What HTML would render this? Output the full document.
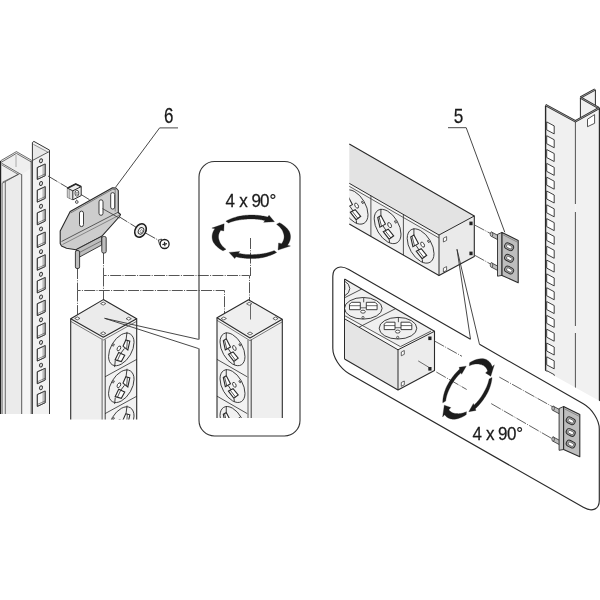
<!DOCTYPE html>
<html><head><meta charset="utf-8"><style>
html,body{margin:0;padding:0;background:#fff;}
text{filter:grayscale(1);}
svg{display:block;}
</style></head><body>
<svg width="600" height="600" viewBox="0 0 600 600">
<defs>
<g id="sock">
<circle cx="50" cy="48" r="40" fill="none" stroke="#2a2a2a" vector-effect="non-scaling-stroke" stroke-width="0.9"/>
<polyline points="30,12 30,29.5" fill="none" stroke="#2a2a2a" vector-effect="non-scaling-stroke" stroke-width="0.9"/>
<polyline points="55,80 56,87.5" fill="none" stroke="#2a2a2a" vector-effect="non-scaling-stroke" stroke-width="0.9"/>
<polyline points="36,53 46,61" fill="none" stroke="#2a2a2a" vector-effect="non-scaling-stroke" stroke-width="0.9"/>
<polygon points="20.5,39 30,29.5 43.5,45 27,61" fill="#fff" stroke="#2a2a2a" vector-effect="non-scaling-stroke" stroke-width="1.1"/>
<line x1="24.5" y1="35.5" x2="32" y2="57" stroke="#2a2a2a" vector-effect="non-scaling-stroke" stroke-width="0.8"/>
<polygon points="37,67.9 51.9,54.1 68.2,63.2 54.5,78.8" fill="#fff" stroke="#2a2a2a" vector-effect="non-scaling-stroke" stroke-width="1.1"/>
<line x1="42.7" y1="62.7" x2="59.7" y2="72.9" stroke="#2a2a2a" vector-effect="non-scaling-stroke" stroke-width="0.8"/>
<circle cx="56" cy="41.5" r="5.8" fill="#fff" stroke="#2a2a2a" vector-effect="non-scaling-stroke" stroke-width="0.9"/>
<circle cx="73.5" cy="24.5" r="2.6" fill="none" stroke="#2a2a2a" vector-effect="non-scaling-stroke" stroke-width="0.9"/>
</g>
<g id="sockL">
<circle cx="50" cy="48" r="40" fill="none" stroke="#2a2a2a" vector-effect="non-scaling-stroke" stroke-width="0.9"/>
<polyline points="32,9 35,29" fill="none" stroke="#2a2a2a" vector-effect="non-scaling-stroke" stroke-width="0.9"/>
<polyline points="69,70 71,86" fill="none" stroke="#2a2a2a" vector-effect="non-scaling-stroke" stroke-width="0.9"/>
<polyline points="40,50 52,58" fill="none" stroke="#2a2a2a" vector-effect="non-scaling-stroke" stroke-width="0.9"/>
<polygon points="44.6,41.9 35.8,29 23.2,38.2 29.5,59.6" fill="#fff" stroke="#2a2a2a" vector-effect="non-scaling-stroke" stroke-width="1.1"/>
<line x1="31" y1="32.5" x2="33" y2="55" stroke="#2a2a2a" vector-effect="non-scaling-stroke" stroke-width="0.8"/>
<polygon points="69.4,67 58.1,52.3 39.2,68.9 49.9,80.9" fill="#fff" stroke="#2a2a2a" vector-effect="non-scaling-stroke" stroke-width="1.1"/>
<line x1="52" y1="58" x2="62" y2="72" stroke="#2a2a2a" vector-effect="non-scaling-stroke" stroke-width="0.8"/>
<circle cx="57.5" cy="41.7" r="5.8" fill="#fff" stroke="#2a2a2a" vector-effect="non-scaling-stroke" stroke-width="0.9"/>
<circle cx="74.7" cy="24.3" r="2.6" fill="none" stroke="#2a2a2a" vector-effect="non-scaling-stroke" stroke-width="0.9"/>
</g>
<g id="sockT">
<ellipse cx="0" cy="0" rx="18.8" ry="10.8" fill="none" stroke="#2a2a2a" stroke-width="0.9"/>
<polygon points="-13.8,-4 -11.8,-6 -3,-6 -3,1.4 -13.8,1.4" fill="#fff" stroke="#2a2a2a" stroke-width="0.9"/>
<line x1="-13.8" y1="-2.6" x2="-3" y2="-2.6" stroke="#2a2a2a" stroke-width="0.7"/>
<polygon points="3,-6 11.8,-6 13.8,-4 13.8,1.4 3,1.4" fill="#fff" stroke="#2a2a2a" stroke-width="0.9"/>
<line x1="3" y1="-2.6" x2="13.8" y2="-2.6" stroke="#2a2a2a" stroke-width="0.7"/>
<line x1="0.4" y1="-10.6" x2="0.4" y2="-6" stroke="#2a2a2a" stroke-width="0.8"/>
<line x1="-3" y1="-0.5" x2="3" y2="-0.5" stroke="#2a2a2a" stroke-width="0.7"/>
<ellipse cx="-0.3" cy="3.4" rx="2.3" ry="1.5" fill="#fff" stroke="#2a2a2a" stroke-width="0.8"/>
<circle cx="-0.3" cy="9.2" r="1.1" fill="none" stroke="#2a2a2a" stroke-width="0.7"/>
</g>
</defs>
<rect width="600" height="600" fill="#fff"/>
<polygon points="0.40,161.00 16.40,151.60 31.20,160.40 32.40,160.00 32.40,414.00 0.40,414.00" fill="#efefef" stroke="none" stroke-width="1" stroke-linejoin="round" />
<polygon points="21.60,174.40 31.20,168.00 31.20,414.00 21.60,414.00" fill="#f5f5f5" stroke="none" stroke-width="1" stroke-linejoin="round" />
<polygon points="2.40,183.20 19.60,173.60 21.60,174.40 21.60,414.00 2.40,414.00" fill="#ebebeb" stroke="none" stroke-width="1" stroke-linejoin="round" />
<polygon points="32.40,142.00 33.90,141.40 49.50,150.10 49.50,414.00 32.40,414.00" fill="#f1f1f1" stroke="none" stroke-width="1" stroke-linejoin="round" />
<polygon points="33.20,143.50 48.50,151.50 33.20,160.00" fill="#e9e9e9" stroke="none" stroke-width="1" stroke-linejoin="round" />
<polyline points="0.60,160.80 16.40,151.60 31.40,160.20" fill="none" stroke="#333" stroke-width="0.7" stroke-linejoin="round" />
<polyline points="1.40,162.20 16.40,153.40 31.40,162.00" fill="none" stroke="#333" stroke-width="0.7" stroke-linejoin="round" />
<polyline points="1.60,163.20 19.60,173.60 2.40,183.20" fill="none" stroke="#333" stroke-width="0.7" stroke-linejoin="round" />
<polyline points="1.60,164.80 18.20,174.40 2.40,182.20" fill="none" stroke="#333" stroke-width="0.6" stroke-linejoin="round" />
<polyline points="19.60,173.60 21.60,174.60" fill="none" stroke="#333" stroke-width="0.7" stroke-linejoin="round" />
<line x1="0.50" y1="161.00" x2="0.50" y2="414.00" stroke="#222" stroke-width="1.4" />
<line x1="2.20" y1="183.20" x2="2.20" y2="414.00" stroke="#333" stroke-width="0.6" />
<line x1="5.30" y1="182.00" x2="5.30" y2="414.00" stroke="#333" stroke-width="0.7" />
<line x1="21.70" y1="174.40" x2="21.70" y2="414.00" stroke="#333" stroke-width="0.8" />
<line x1="16.00" y1="155.00" x2="16.00" y2="167.00" stroke="#999" stroke-width="0.8" />
<line x1="31.20" y1="160.50" x2="31.20" y2="414.00" stroke="#333" stroke-width="0.8" />
<polyline points="32.40,414.00 32.40,142.50 33.90,141.40 49.50,150.10 49.50,414.00" fill="none" stroke="#333" stroke-width="1.0" stroke-linejoin="round" />
<polyline points="33.40,144.40 48.40,152.40" fill="none" stroke="#555" stroke-width="0.6" stroke-linejoin="round" />
<polyline points="32.60,160.40 48.80,151.80" fill="none" stroke="#333" stroke-width="0.8" stroke-linejoin="round" />
<ellipse cx="41" cy="160.8" rx="1.5" ry="2.0" fill="#d8d8d8" stroke="#333" stroke-width="0.9" transform="rotate(25 41 160.8)"/>
<polygon points="37.30,167.50 45.20,164.00 45.20,175.70 37.30,179.40" fill="#f6f6f6" stroke="#333" stroke-width="0.8" stroke-linejoin="round" />
<polygon points="42.40,165.20 45.20,164.00 45.20,175.70 42.40,176.90" fill="#bdbdbd" stroke="none" stroke-width="1" stroke-linejoin="round" />
<polyline points="37.50,177.40 45.00,174.00" fill="none" stroke="#444" stroke-width="0.6" stroke-linejoin="round" />
<polygon points="37.30,167.50 45.20,164.00 45.20,175.70 37.30,179.40" fill="none" stroke="#333" stroke-width="0.8" stroke-linejoin="round" />
<ellipse cx="41" cy="183.5" rx="1.5" ry="2.0" fill="#d8d8d8" stroke="#333" stroke-width="0.9" transform="rotate(25 41 183.5)"/>
<polygon points="37.30,190.20 45.20,186.70 45.20,198.40 37.30,202.10" fill="#f6f6f6" stroke="#333" stroke-width="0.8" stroke-linejoin="round" />
<polygon points="42.40,187.90 45.20,186.70 45.20,198.40 42.40,199.60" fill="#bdbdbd" stroke="none" stroke-width="1" stroke-linejoin="round" />
<polyline points="37.50,200.10 45.00,196.70" fill="none" stroke="#444" stroke-width="0.6" stroke-linejoin="round" />
<polygon points="37.30,190.20 45.20,186.70 45.20,198.40 37.30,202.10" fill="none" stroke="#333" stroke-width="0.8" stroke-linejoin="round" />
<ellipse cx="41" cy="206.2" rx="1.5" ry="2.0" fill="#d8d8d8" stroke="#333" stroke-width="0.9" transform="rotate(25 41 206.2)"/>
<polygon points="37.30,212.90 45.20,209.40 45.20,221.10 37.30,224.80" fill="#f6f6f6" stroke="#333" stroke-width="0.8" stroke-linejoin="round" />
<polygon points="42.40,210.60 45.20,209.40 45.20,221.10 42.40,222.30" fill="#bdbdbd" stroke="none" stroke-width="1" stroke-linejoin="round" />
<polyline points="37.50,222.80 45.00,219.40" fill="none" stroke="#444" stroke-width="0.6" stroke-linejoin="round" />
<polygon points="37.30,212.90 45.20,209.40 45.20,221.10 37.30,224.80" fill="none" stroke="#333" stroke-width="0.8" stroke-linejoin="round" />
<ellipse cx="41" cy="228.9" rx="1.5" ry="2.0" fill="#d8d8d8" stroke="#333" stroke-width="0.9" transform="rotate(25 41 228.9)"/>
<polygon points="37.30,235.60 45.20,232.10 45.20,243.80 37.30,247.50" fill="#f6f6f6" stroke="#333" stroke-width="0.8" stroke-linejoin="round" />
<polygon points="42.40,233.30 45.20,232.10 45.20,243.80 42.40,245.00" fill="#bdbdbd" stroke="none" stroke-width="1" stroke-linejoin="round" />
<polyline points="37.50,245.50 45.00,242.10" fill="none" stroke="#444" stroke-width="0.6" stroke-linejoin="round" />
<polygon points="37.30,235.60 45.20,232.10 45.20,243.80 37.30,247.50" fill="none" stroke="#333" stroke-width="0.8" stroke-linejoin="round" />
<ellipse cx="41" cy="251.6" rx="1.5" ry="2.0" fill="#d8d8d8" stroke="#333" stroke-width="0.9" transform="rotate(25 41 251.6)"/>
<polygon points="37.30,258.30 45.20,254.80 45.20,266.50 37.30,270.20" fill="#f6f6f6" stroke="#333" stroke-width="0.8" stroke-linejoin="round" />
<polygon points="42.40,256.00 45.20,254.80 45.20,266.50 42.40,267.70" fill="#bdbdbd" stroke="none" stroke-width="1" stroke-linejoin="round" />
<polyline points="37.50,268.20 45.00,264.80" fill="none" stroke="#444" stroke-width="0.6" stroke-linejoin="round" />
<polygon points="37.30,258.30 45.20,254.80 45.20,266.50 37.30,270.20" fill="none" stroke="#333" stroke-width="0.8" stroke-linejoin="round" />
<ellipse cx="41" cy="274.3" rx="1.5" ry="2.0" fill="#d8d8d8" stroke="#333" stroke-width="0.9" transform="rotate(25 41 274.3)"/>
<polygon points="37.30,281.00 45.20,277.50 45.20,289.20 37.30,292.90" fill="#f6f6f6" stroke="#333" stroke-width="0.8" stroke-linejoin="round" />
<polygon points="42.40,278.70 45.20,277.50 45.20,289.20 42.40,290.40" fill="#bdbdbd" stroke="none" stroke-width="1" stroke-linejoin="round" />
<polyline points="37.50,290.90 45.00,287.50" fill="none" stroke="#444" stroke-width="0.6" stroke-linejoin="round" />
<polygon points="37.30,281.00 45.20,277.50 45.20,289.20 37.30,292.90" fill="none" stroke="#333" stroke-width="0.8" stroke-linejoin="round" />
<ellipse cx="41" cy="297.0" rx="1.5" ry="2.0" fill="#d8d8d8" stroke="#333" stroke-width="0.9" transform="rotate(25 41 297.0)"/>
<polygon points="37.30,303.70 45.20,300.20 45.20,311.90 37.30,315.60" fill="#f6f6f6" stroke="#333" stroke-width="0.8" stroke-linejoin="round" />
<polygon points="42.40,301.40 45.20,300.20 45.20,311.90 42.40,313.10" fill="#bdbdbd" stroke="none" stroke-width="1" stroke-linejoin="round" />
<polyline points="37.50,313.60 45.00,310.20" fill="none" stroke="#444" stroke-width="0.6" stroke-linejoin="round" />
<polygon points="37.30,303.70 45.20,300.20 45.20,311.90 37.30,315.60" fill="none" stroke="#333" stroke-width="0.8" stroke-linejoin="round" />
<ellipse cx="41" cy="319.7" rx="1.5" ry="2.0" fill="#d8d8d8" stroke="#333" stroke-width="0.9" transform="rotate(25 41 319.7)"/>
<polygon points="37.30,326.40 45.20,322.90 45.20,334.60 37.30,338.30" fill="#f6f6f6" stroke="#333" stroke-width="0.8" stroke-linejoin="round" />
<polygon points="42.40,324.10 45.20,322.90 45.20,334.60 42.40,335.80" fill="#bdbdbd" stroke="none" stroke-width="1" stroke-linejoin="round" />
<polyline points="37.50,336.30 45.00,332.90" fill="none" stroke="#444" stroke-width="0.6" stroke-linejoin="round" />
<polygon points="37.30,326.40 45.20,322.90 45.20,334.60 37.30,338.30" fill="none" stroke="#333" stroke-width="0.8" stroke-linejoin="round" />
<ellipse cx="41" cy="342.4" rx="1.5" ry="2.0" fill="#d8d8d8" stroke="#333" stroke-width="0.9" transform="rotate(25 41 342.4)"/>
<polygon points="37.30,349.10 45.20,345.60 45.20,357.30 37.30,361.00" fill="#f6f6f6" stroke="#333" stroke-width="0.8" stroke-linejoin="round" />
<polygon points="42.40,346.80 45.20,345.60 45.20,357.30 42.40,358.50" fill="#bdbdbd" stroke="none" stroke-width="1" stroke-linejoin="round" />
<polyline points="37.50,359.00 45.00,355.60" fill="none" stroke="#444" stroke-width="0.6" stroke-linejoin="round" />
<polygon points="37.30,349.10 45.20,345.60 45.20,357.30 37.30,361.00" fill="none" stroke="#333" stroke-width="0.8" stroke-linejoin="round" />
<ellipse cx="41" cy="365.1" rx="1.5" ry="2.0" fill="#d8d8d8" stroke="#333" stroke-width="0.9" transform="rotate(25 41 365.1)"/>
<polygon points="37.30,371.80 45.20,368.30 45.20,380.00 37.30,383.70" fill="#f6f6f6" stroke="#333" stroke-width="0.8" stroke-linejoin="round" />
<polygon points="42.40,369.50 45.20,368.30 45.20,380.00 42.40,381.20" fill="#bdbdbd" stroke="none" stroke-width="1" stroke-linejoin="round" />
<polyline points="37.50,381.70 45.00,378.30" fill="none" stroke="#444" stroke-width="0.6" stroke-linejoin="round" />
<polygon points="37.30,371.80 45.20,368.30 45.20,380.00 37.30,383.70" fill="none" stroke="#333" stroke-width="0.8" stroke-linejoin="round" />
<ellipse cx="41" cy="387.8" rx="1.5" ry="2.0" fill="#d8d8d8" stroke="#333" stroke-width="0.9" transform="rotate(25 41 387.8)"/>
<polygon points="37.30,394.50 45.20,391.00 45.20,402.70 37.30,406.40" fill="#f6f6f6" stroke="#333" stroke-width="0.8" stroke-linejoin="round" />
<polygon points="42.40,392.20 45.20,391.00 45.20,402.70 42.40,403.90" fill="#bdbdbd" stroke="none" stroke-width="1" stroke-linejoin="round" />
<polyline points="37.50,404.40 45.00,401.00" fill="none" stroke="#444" stroke-width="0.6" stroke-linejoin="round" />
<polygon points="37.30,394.50 45.20,391.00 45.20,402.70 37.30,406.40" fill="none" stroke="#333" stroke-width="0.8" stroke-linejoin="round" />
<polyline points="77.5,268 77.5,290.5 224.5,290.5 224.5,316" stroke="#555" stroke-width="1" stroke-dasharray="11 1.3 1 1.3" fill="none"/>
<polyline points="103.5,253 103.5,275.5 249.5,275.5 249.5,302" stroke="#555" stroke-width="1" stroke-dasharray="11 1.3 1 1.3" fill="none"/>
<polyline points="77.5,290.5 77.5,316" stroke="#555" stroke-width="1" stroke-dasharray="11 1.3 1 1.3" fill="none"/>
<polyline points="103.5,275.5 103.5,300" stroke="#555" stroke-width="1" stroke-dasharray="11 1.3 1 1.3" fill="none"/>
<line x1="250.5" y1="238" x2="250.5" y2="276" stroke="#555" stroke-width="1" stroke-dasharray="11 1.3 1 1.3" fill="none"/>
<line x1="48" y1="176" x2="67.7" y2="187.7" stroke="#3a3a3a" stroke-width="0.9" stroke-dasharray="11 1.3 1 1.3" fill="none"/>
<line x1="80.7" y1="194.3" x2="89.5" y2="199.7" stroke="#3a3a3a" stroke-width="0.9" stroke-dasharray="11 1.3 1 1.3" fill="none"/>
<line x1="118" y1="216" x2="136.5" y2="227.5" stroke="#3a3a3a" stroke-width="0.9" stroke-dasharray="11 1.3 1 1.3" fill="none"/>
<line x1="145.5" y1="233" x2="159" y2="240.5" stroke="#3a3a3a" stroke-width="0.9" stroke-dasharray="11 1.3 1 1.3" fill="none"/>
<polygon points="67.40,188.20 75.70,184.00 81.20,186.60 81.20,195.60 73.00,199.80 67.40,197.20" fill="#ececec" stroke="#2a2a2a" stroke-width="1.0" stroke-linejoin="round" />
<polygon points="67.40,188.20 72.80,190.80 72.80,199.70 67.40,197.20" fill="#e2e2e2" stroke="none" stroke-width="1" stroke-linejoin="round" />
<polyline points="67.40,188.20 75.70,184.00 81.20,186.60" fill="none" stroke="#2a2a2a" stroke-width="1.6" stroke-linejoin="round" />
<polyline points="67.40,188.20 72.80,190.80 81.20,186.60" fill="none" stroke="#2a2a2a" stroke-width="1.0" stroke-linejoin="round" />
<line x1="72.80" y1="190.80" x2="72.80" y2="199.80" stroke="#2a2a2a" stroke-width="1.0" />
<line x1="69.20" y1="189.60" x2="69.20" y2="198.00" stroke="#666" stroke-width="0.6" />
<ellipse cx="76.9" cy="193.2" rx="1.9" ry="3.0" fill="#fff" stroke="#2a2a2a" stroke-width="0.8"/>
<ellipse cx="77.1" cy="193.4" rx="0.8" ry="1.4" fill="none" stroke="#555" stroke-width="0.6"/>
<line x1="76.60" y1="199.60" x2="76.60" y2="200.60" stroke="#2a2a2a" stroke-width="0.7" />
<ellipse cx="76.8" cy="202.0" rx="1.3" ry="1.4" fill="#fff" stroke="#2a2a2a" stroke-width="0.8"/>
<polygon points="70.20,211.50 112.50,187.80 116.00,188.00 118.30,190.50 118.30,212.50 120.50,214.50 119.50,216.50 101.70,236.30 76.00,249.70 66.50,248.20 61.50,246.00 60.20,243.50 60.20,231.00 70.20,211.50" fill="#cdcdcd" stroke="#2a2a2a" stroke-width="1.1" stroke-linejoin="round" />
<polyline points="70.60,213.00 112.60,189.30 115.50,189.60" fill="none" stroke="#444" stroke-width="0.6" stroke-linejoin="round" />
<polyline points="61.50,241.50 118.50,212.00" fill="none" stroke="#3a3a3a" stroke-width="0.8" stroke-linejoin="round" />
<polyline points="62.50,244.50 119.50,215.00" fill="none" stroke="#555" stroke-width="0.6" stroke-linejoin="round" />
<polyline points="115.20,189.00 115.20,211.50" fill="none" stroke="#555" stroke-width="0.6" stroke-linejoin="round" />
<polygon points="76.00,249.70 101.70,236.30 101.70,245.00 79.00,257.30" fill="#bdbdbd" stroke="#2a2a2a" stroke-width="0.9" stroke-linejoin="round" />
<polyline points="77.50,253.50 101.70,240.80" fill="none" stroke="#444" stroke-width="0.6" stroke-linejoin="round" />
<rect x="75.4" y="250.5" width="4.2" height="18" rx="1.6" fill="#bdbdbd" stroke="#2a2a2a" stroke-width="0.9"/>
<rect x="101.8" y="236.5" width="4.4" height="16.5" rx="1.6" fill="#bdbdbd" stroke="#2a2a2a" stroke-width="0.9"/>
<rect x="79.5" y="211.1" width="4" height="15.5" rx="2" fill="#fff" stroke="#2a2a2a" stroke-width="0.9"/>
<rect x="99.0" y="199.8" width="4" height="15.5" rx="2" fill="#fff" stroke="#2a2a2a" stroke-width="0.9"/>
<rect x="110.7" y="192.6" width="4" height="16.5" rx="2" fill="#fff" stroke="#2a2a2a" stroke-width="0.9"/>
<ellipse cx="140.5" cy="230.5" rx="5.3" ry="7.1" transform="rotate(30 140.5 230.5)" fill="#efefef" stroke="#1e1e1e" stroke-width="1.6"/>
<ellipse cx="141.0" cy="230.9" rx="2.5" ry="3.4" transform="rotate(30 141 230.9)" fill="#fff" stroke="#2a2a2a" stroke-width="0.9"/>
<ellipse cx="141.3" cy="231.2" rx="1.1" ry="1.6" transform="rotate(30 141.3 231.2)" fill="none" stroke="#555" stroke-width="0.6"/>
<polygon points="158.30,240.20 161.50,239.00 162.30,246.50 159.60,244.60" fill="#e8e8e8" stroke="#2a2a2a" stroke-width="0.8" stroke-linejoin="round" />
<circle cx="164.6" cy="244" r="4.5" fill="#fff" stroke="#1e1e1e" stroke-width="1.3"/>
<line x1="162.40" y1="244.60" x2="167.00" y2="243.60" stroke="#2a2a2a" stroke-width="1.2" />
<line x1="164.50" y1="241.90" x2="164.90" y2="246.30" stroke="#2a2a2a" stroke-width="1.2" />
<line x1="102.5" y1="208.6" x2="119.5" y2="218.2" stroke="#333" stroke-width="0.8"/>
<text x="164" y="122.8" font-family="Liberation Sans, sans-serif" font-size="21.2" fill="#1a1a1a" stroke="#1a1a1a" stroke-width="0.25" transform="translate(164 0) scale(0.8 1) translate(-164 0)">6</text>
<polyline points="178.00,127.90 159.60,127.90 115.40,187.50" fill="none" stroke="#333" stroke-width="0.9" stroke-linejoin="round" />
<clipPath id="clipL"><rect x="60" y="290" width="90" height="129.5"/></clipPath>
<g clip-path="url(#clipL)">
<polygon points="70.70,318.70 103.30,337.30 103.30,420.00 70.70,420.00" fill="#eeeeee" stroke="none" stroke-width="1" stroke-linejoin="round" />
<polygon points="103.30,337.30 136.70,318.70 136.70,420.00 103.30,420.00" fill="#f2f2f2" stroke="none" stroke-width="1" stroke-linejoin="round" />
<polygon points="70.70,318.70 103.30,299.60 136.70,318.70 103.30,337.30" fill="#ebebeb" stroke="none" stroke-width="1" stroke-linejoin="round" />
<polygon points="70.70,318.70 103.30,337.30 136.70,318.70 136.70,321.30 103.30,340.00 70.70,321.30" fill="#f4f4f4" stroke="none" stroke-width="1" stroke-linejoin="round" />
<use href="#sockL" transform="matrix(-0.31850 0.17500 0.00000 0.36850 137.225 322.962)"/>
<line x1="105.00" y1="376.80" x2="136.90" y2="359.30" stroke="#2a2a2a" stroke-width="0.8" />
<use href="#sockL" transform="matrix(-0.31850 0.17500 0.00000 0.36850 137.225 359.812)"/>
<line x1="105.00" y1="413.65" x2="136.90" y2="396.15" stroke="#2a2a2a" stroke-width="0.8" />
<use href="#sockL" transform="matrix(-0.31850 0.17500 0.00000 0.36850 137.225 396.662)"/>
<line x1="105.00" y1="450.50" x2="136.90" y2="433.00" stroke="#2a2a2a" stroke-width="0.8" />
<polygon points="70.70,318.70 103.30,299.60 136.70,318.70 103.30,337.30" fill="none" stroke="#2a2a2a" stroke-width="1.1" stroke-linejoin="round" />
<polyline points="70.70,321.30 103.30,340.00 136.70,321.30" fill="none" stroke="#444" stroke-width="0.7" stroke-linejoin="round" />
<line x1="70.70" y1="318.70" x2="70.70" y2="420.00" stroke="#2a2a2a" stroke-width="1.1" />
<line x1="136.70" y1="318.70" x2="136.70" y2="420.00" stroke="#2a2a2a" stroke-width="1.1" />
<line x1="102.20" y1="338.50" x2="102.20" y2="420.00" stroke="#9a9a9a" stroke-width="1.7" />
<line x1="105.20" y1="339.50" x2="105.20" y2="420.00" stroke="#2a2a2a" stroke-width="0.9" />
<polygon points="74.70,318.40 77.30,316.90 79.90,318.40 77.30,319.90" fill="#fff" stroke="#2a2a2a" stroke-width="0.7" stroke-linejoin="round" />
<polygon points="100.60,303.60 103.20,302.10 105.80,303.60 103.20,305.10" fill="#fff" stroke="#2a2a2a" stroke-width="0.7" stroke-linejoin="round" />
<polygon points="126.10,318.70 128.70,317.20 131.30,318.70 128.70,320.20" fill="#fff" stroke="#2a2a2a" stroke-width="0.7" stroke-linejoin="round" />
<polygon points="100.60,333.30 103.20,331.80 105.80,333.30 103.20,334.80" fill="#fff" stroke="#2a2a2a" stroke-width="0.7" stroke-linejoin="round" />
</g>
<polyline points="198.60,339.40 104.60,318.30 198.60,348.60" fill="none" stroke="#333" stroke-width="0.9" stroke-linejoin="round" />
<path d="M199,348.6 L199,420.5 C199,429.06065 205.93935,436 214.5,436 L284.5,436 C293.06065,436 300,429.06065 300,420.5 L300,177.0 C300,168.43935 293.06065,161.5 284.5,161.5 L214.5,161.5 C205.93935,161.5 199,168.43935 199,177.0 L199,339.4" fill="none" stroke="#333" stroke-width="1.1"/>
<polygon points="225.88,221.19 226.67,220.75 227.49,220.33 228.32,219.92 229.18,219.52 230.06,219.14 230.96,218.77 231.89,218.42 232.83,218.07 233.79,217.75 234.77,217.44 235.77,217.14 236.78,216.86 237.81,216.59 238.86,216.35 239.92,216.12 240.99,215.90 242.08,215.70 243.17,215.52 244.30,215.40 245.42,215.30 246.55,215.21 247.69,215.14 248.83,215.09 249.97,215.06 251.11,215.05 252.25,215.06 253.39,215.08 254.53,215.12 255.67,215.19 256.80,215.26 257.93,215.36 259.05,215.48 260.16,215.61 261.27,215.77 262.37,215.94 263.46,216.12 264.54,216.33 265.61,216.55 266.67,216.79 267.71,217.05 269.05,215.28 274.44,221.63 263.69,222.36 265.03,220.59 264.16,220.38 263.27,220.18 262.38,220.00 261.48,219.83 260.56,219.68 259.64,219.54 258.72,219.41 257.78,219.30 256.84,219.21 255.90,219.13 254.95,219.06 254.00,219.01 253.05,218.98 252.09,218.96 251.14,218.95 250.18,218.96 249.23,218.99 248.28,219.03 247.33,219.08 246.38,219.15 245.44,219.24 244.50,219.34 243.55,219.41 242.61,219.50 241.67,219.61 240.73,219.73 239.80,219.87 238.87,220.02 237.96,220.18 237.05,220.37 236.14,220.56 235.25,220.77 234.37,221.00 233.50,221.24 232.64,221.50 231.79,221.77 230.95,222.05 230.13,222.35 229.33,222.66 228.54,222.98" fill="#1c1c1c" stroke="#1c1c1c" stroke-width="0.3" stroke-linejoin="round" />
<polygon points="279.53,222.74 280.29,223.16 281.02,223.59 281.74,224.04 282.43,224.50 283.11,224.97 283.75,225.45 284.38,225.94 284.98,226.44 285.55,226.95 286.10,227.47 286.63,228.00 287.12,228.55 287.59,229.09 288.03,229.65 288.45,230.22 288.83,230.79 289.19,231.37 289.52,231.96 289.75,232.56 289.95,233.16 290.12,233.77 290.26,234.38 290.36,234.99 290.44,235.60 290.49,236.22 290.50,236.83 290.48,237.45 290.43,238.06 290.35,238.67 290.24,239.29 290.10,239.90 289.93,240.50 289.72,241.11 289.49,241.71 289.22,242.30 288.93,242.90 288.60,243.48 288.25,244.06 287.86,244.64 287.45,245.21 290.40,245.97 278.05,250.05 278.60,242.95 281.55,243.70 281.89,243.24 282.22,242.76 282.51,242.28 282.79,241.80 283.03,241.32 283.25,240.83 283.45,240.33 283.62,239.84 283.77,239.34 283.89,238.84 283.98,238.34 284.04,237.84 284.09,237.33 284.10,236.83 284.09,236.32 284.05,235.82 283.99,235.32 283.90,234.81 283.78,234.31 283.64,233.82 283.47,233.32 283.28,232.83 283.12,232.33 282.94,231.83 282.74,231.33 282.50,230.83 282.25,230.34 281.96,229.85 281.65,229.37 281.31,228.88 280.95,228.41 280.56,227.93 280.15,227.46 279.71,227.00 279.25,226.54 278.76,226.09 278.25,225.65 277.72,225.21 277.16,224.78 276.58,224.36" fill="#1c1c1c" stroke="#1c1c1c" stroke-width="0.3" stroke-linejoin="round" />
<polygon points="276.72,252.41 275.95,252.84 275.16,253.25 274.35,253.65 273.51,254.04 272.66,254.41 271.79,254.78 270.89,255.13 269.98,255.46 269.05,255.79 268.10,256.09 267.13,256.39 266.15,256.67 265.15,256.93 264.13,257.18 263.11,257.41 262.07,257.63 261.02,257.83 259.95,258.01 258.86,258.14 257.77,258.25 256.67,258.34 255.57,258.42 254.46,258.48 253.35,258.52 252.24,258.54 251.13,258.55 250.02,258.54 248.91,258.51 247.80,258.46 246.69,258.40 245.59,258.32 244.49,258.22 243.40,258.10 242.32,257.97 241.24,257.82 240.17,257.65 239.11,257.47 238.05,257.27 237.01,257.05 235.98,256.82 234.73,258.62 229.14,252.40 239.73,251.44 238.48,253.23 239.35,253.42 240.22,253.60 241.10,253.76 241.98,253.91 242.88,254.05 243.78,254.17 244.69,254.28 245.60,254.38 246.52,254.46 247.44,254.53 248.37,254.58 249.30,254.62 250.23,254.64 251.16,254.65 252.09,254.64 253.02,254.63 253.94,254.59 254.87,254.54 255.79,254.48 256.71,254.41 257.63,254.31 258.54,254.21 259.46,254.13 260.38,254.04 261.29,253.93 262.20,253.81 263.11,253.67 264.01,253.52 264.90,253.35 265.78,253.17 266.66,252.98 267.53,252.77 268.39,252.55 269.24,252.31 270.07,252.06 270.90,251.80 271.71,251.52 272.51,251.23 273.29,250.93 274.06,250.62" fill="#1c1c1c" stroke="#1c1c1c" stroke-width="0.3" stroke-linejoin="round" />
<polygon points="223.07,250.86 222.33,250.45 221.60,250.02 220.90,249.59 220.21,249.14 219.55,248.68 218.91,248.21 218.30,247.73 217.70,247.24 217.13,246.74 216.59,246.23 216.07,245.71 215.58,245.18 215.11,244.65 214.67,244.10 214.25,243.55 213.86,242.99 213.50,242.42 213.17,241.85 212.93,241.26 212.73,240.67 212.55,240.08 212.40,239.48 212.28,238.88 212.19,238.28 212.13,237.68 212.10,237.08 212.10,236.47 212.14,235.87 212.20,235.27 212.29,234.67 212.41,234.07 212.56,233.47 212.74,232.88 212.95,232.29 213.19,231.70 213.46,231.12 213.76,230.54 214.09,229.96 214.44,229.39 214.83,228.83 211.85,228.11 224.13,223.81 223.76,230.97 220.78,230.26 220.46,230.72 220.16,231.19 219.89,231.66 219.64,232.13 219.41,232.61 219.21,233.10 219.04,233.58 218.89,234.07 218.76,234.56 218.66,235.05 218.58,235.54 218.53,236.04 218.50,236.53 218.50,237.03 218.53,237.52 218.58,238.01 218.65,238.51 218.75,239.00 218.87,239.49 219.02,239.98 219.20,240.46 219.40,240.94 219.55,241.43 219.74,241.92 219.95,242.41 220.18,242.89 220.44,243.38 220.72,243.86 221.03,244.33 221.37,244.80 221.72,245.27 222.11,245.74 222.51,246.20 222.95,246.65 223.40,247.10 223.88,247.54 224.38,247.98 224.90,248.40 225.45,248.83 226.02,249.24" fill="#1c1c1c" stroke="#1c1c1c" stroke-width="0.3" stroke-linejoin="round" />
<text x="225.50" y="206.80" font-family="Liberation Sans, sans-serif" font-size="18.5" fill="#1a1a1a" stroke="#1a1a1a" stroke-width="0.25" transform="translate(225.50 0) scale(0.92 1) translate(-225.50 0)">4</text>
<text x="239.20" y="206.80" font-family="Liberation Sans, sans-serif" font-size="18.5" fill="#1a1a1a" stroke="#1a1a1a" stroke-width="0.25" transform="translate(239.20 0) scale(0.92 1) translate(-239.20 0)">x</text>
<text x="251.40" y="206.80" font-family="Liberation Sans, sans-serif" font-size="18.5" fill="#1a1a1a" stroke="#1a1a1a" stroke-width="0.25" transform="translate(251.40 0) scale(0.92 1) translate(-251.40 0)">9</text>
<text x="260.00" y="206.80" font-family="Liberation Sans, sans-serif" font-size="18.5" fill="#1a1a1a" stroke="#1a1a1a" stroke-width="0.25" transform="translate(260.00 0) scale(0.92 1) translate(-260.00 0)">0</text>
<text x="269.60" y="206.80" font-family="Liberation Sans, sans-serif" font-size="18.5" fill="#1a1a1a" stroke="#1a1a1a" stroke-width="0.25" transform="translate(269.60 0) scale(0.92 1) translate(-269.60 0)">°</text>
<clipPath id="clipR"><rect x="205" y="290" width="90" height="128"/></clipPath>
<g clip-path="url(#clipR)">
<polygon points="217.00,317.80 250.00,338.00 250.00,420.00 217.00,420.00" fill="#f2f2f2" stroke="none" stroke-width="1" stroke-linejoin="round" />
<polygon points="250.00,338.00 282.30,319.30 282.30,420.00 250.00,420.00" fill="#efefef" stroke="none" stroke-width="1" stroke-linejoin="round" />
<polygon points="217.00,317.80 248.50,299.80 282.30,319.30 250.00,338.00" fill="#efefef" stroke="none" stroke-width="1" stroke-linejoin="round" />
<polygon points="217.00,317.80 250.00,338.00 282.30,319.30 282.30,321.80 250.00,340.60 217.00,320.30" fill="#f6f6f6" stroke="none" stroke-width="1" stroke-linejoin="round" />
<use href="#sock" transform="matrix(0.31200 0.18100 0.00000 0.36800 216.900 322.586)"/>
<line x1="216.90" y1="359.30" x2="248.60" y2="377.60" stroke="#2a2a2a" stroke-width="0.8" />
<use href="#sock" transform="matrix(0.31200 0.18100 0.00000 0.36800 216.900 359.386)"/>
<line x1="216.90" y1="396.10" x2="248.60" y2="414.40" stroke="#2a2a2a" stroke-width="0.8" />
<use href="#sock" transform="matrix(0.31200 0.18100 0.00000 0.36800 216.900 396.186)"/>
<line x1="216.90" y1="432.90" x2="248.60" y2="451.20" stroke="#2a2a2a" stroke-width="0.8" />
<polygon points="217.00,317.80 248.50,299.80 282.30,319.30 250.00,338.00" fill="none" stroke="#2a2a2a" stroke-width="1.1" stroke-linejoin="round" />
<polyline points="217.00,320.30 250.00,340.60 282.30,321.80" fill="none" stroke="#444" stroke-width="0.7" stroke-linejoin="round" />
<line x1="217.00" y1="317.80" x2="217.00" y2="420.00" stroke="#2a2a2a" stroke-width="1.1" />
<line x1="282.30" y1="319.30" x2="282.30" y2="420.00" stroke="#2a2a2a" stroke-width="1.1" />
<line x1="248.00" y1="339.50" x2="248.00" y2="420.00" stroke="#9a9a9a" stroke-width="1.7" />
<line x1="251.20" y1="339.50" x2="251.20" y2="420.00" stroke="#2a2a2a" stroke-width="0.9" />
<polygon points="221.20,318.50 223.80,317.00 226.40,318.50 223.80,320.00" fill="#fff" stroke="#2a2a2a" stroke-width="0.7" stroke-linejoin="round" />
<polygon points="246.60,303.80 249.20,302.30 251.80,303.80 249.20,305.30" fill="#fff" stroke="#2a2a2a" stroke-width="0.7" stroke-linejoin="round" />
<polygon points="272.90,318.50 275.50,317.00 278.10,318.50 275.50,320.00" fill="#fff" stroke="#2a2a2a" stroke-width="0.7" stroke-linejoin="round" />
<polygon points="247.40,333.50 250.00,332.00 252.60,333.50 250.00,335.00" fill="#fff" stroke="#2a2a2a" stroke-width="0.7" stroke-linejoin="round" />
</g>
<line x1="250.5" y1="305" x2="250.5" y2="319.5" stroke="#444" stroke-width="0.8"/>
<clipPath id="clipRP"><polygon points="530,60 600,60 600,401.2 544.8,370.6 530,362"/></clipPath>
<g clip-path="url(#clipRP)">
<polygon points="545.50,105.00 575.40,121.30 575.40,420.00 545.50,420.00" fill="#f0f0f0" stroke="none" stroke-width="1" stroke-linejoin="round" />
<polygon points="575.40,121.30 599.20,108.00 600.00,108.00 600.00,420.00 575.40,420.00" fill="#f1f1f1" stroke="none" stroke-width="1" stroke-linejoin="round" />
<polygon points="580.40,97.50 595.00,89.60 595.40,106.70 599.20,108.30 580.40,117.90" fill="#f0f0f0" stroke="none" stroke-width="1" stroke-linejoin="round" />
<polyline points="580.40,117.90 580.40,97.50" fill="none" stroke="#2a2a2a" stroke-width="1.0" stroke-linejoin="round" />
<polyline points="595.40,89.60 595.40,106.70" fill="none" stroke="#2a2a2a" stroke-width="1.0" stroke-linejoin="round" />
<polyline points="580.40,97.50 595.00,89.60" fill="none" stroke="#2a2a2a" stroke-width="2.3" stroke-linejoin="round" />
<polyline points="580.40,97.50 595.00,89.60" fill="none" stroke="#bbbbbb" stroke-width="0.7" stroke-linejoin="round" />
<polyline points="580.40,97.50 599.20,108.30" fill="none" stroke="#2a2a2a" stroke-width="2.3" stroke-linejoin="round" />
<polyline points="580.40,97.50 599.20,108.30" fill="none" stroke="#bbbbbb" stroke-width="0.7" stroke-linejoin="round" />
<polyline points="545.50,105.00 575.40,121.30 599.20,108.00" fill="none" stroke="#2a2a2a" stroke-width="2.3" stroke-linejoin="round" />
<polyline points="545.50,105.00 575.40,121.30 599.20,108.00" fill="none" stroke="#bbbbbb" stroke-width="0.7" stroke-linejoin="round" />
<line x1="545.60" y1="106.00" x2="545.60" y2="420.00" stroke="#2a2a2a" stroke-width="1.4" />
<line x1="599.50" y1="108.00" x2="599.50" y2="420.00" stroke="#2a2a2a" stroke-width="1.4" />
<line x1="575.40" y1="122.00" x2="575.40" y2="204.00" stroke="#2a2a2a" stroke-width="0.8" />
<line x1="575.40" y1="212.00" x2="575.40" y2="326.00" stroke="#2a2a2a" stroke-width="0.8" />
<line x1="575.40" y1="333.00" x2="575.40" y2="420.00" stroke="#2a2a2a" stroke-width="0.8" />
<polygon points="587.50,119.20 594.60,114.60 594.60,123.30 587.50,126.70" fill="#fff" stroke="#2a2a2a" stroke-width="0.8" stroke-linejoin="round" />
<polygon points="546.70,121.90 554.20,125.90 554.20,133.90 546.70,129.90" fill="#fff" stroke="#2a2a2a" stroke-width="0.9" stroke-linejoin="round" />
<polygon points="546.70,135.72 554.20,139.72 554.20,147.72 546.70,143.72" fill="#fff" stroke="#2a2a2a" stroke-width="0.9" stroke-linejoin="round" />
<polygon points="546.70,149.54 554.20,153.54 554.20,161.54 546.70,157.54" fill="#fff" stroke="#2a2a2a" stroke-width="0.9" stroke-linejoin="round" />
<polygon points="546.70,163.36 554.20,167.36 554.20,175.36 546.70,171.36" fill="#fff" stroke="#2a2a2a" stroke-width="0.9" stroke-linejoin="round" />
<polygon points="546.70,177.18 554.20,181.18 554.20,189.18 546.70,185.18" fill="#fff" stroke="#2a2a2a" stroke-width="0.9" stroke-linejoin="round" />
<polygon points="546.70,191.00 554.20,195.00 554.20,203.00 546.70,199.00" fill="#fff" stroke="#2a2a2a" stroke-width="0.9" stroke-linejoin="round" />
<polygon points="546.70,204.82 554.20,208.82 554.20,216.82 546.70,212.82" fill="#fff" stroke="#2a2a2a" stroke-width="0.9" stroke-linejoin="round" />
<polygon points="546.70,218.64 554.20,222.64 554.20,230.64 546.70,226.64" fill="#fff" stroke="#2a2a2a" stroke-width="0.9" stroke-linejoin="round" />
<polygon points="546.70,232.46 554.20,236.46 554.20,244.46 546.70,240.46" fill="#fff" stroke="#2a2a2a" stroke-width="0.9" stroke-linejoin="round" />
<polygon points="546.70,246.28 554.20,250.28 554.20,258.28 546.70,254.28" fill="#fff" stroke="#2a2a2a" stroke-width="0.9" stroke-linejoin="round" />
<polygon points="546.70,260.10 554.20,264.10 554.20,272.10 546.70,268.10" fill="#fff" stroke="#2a2a2a" stroke-width="0.9" stroke-linejoin="round" />
<polygon points="546.70,273.92 554.20,277.92 554.20,285.92 546.70,281.92" fill="#fff" stroke="#2a2a2a" stroke-width="0.9" stroke-linejoin="round" />
<polygon points="546.70,287.74 554.20,291.74 554.20,299.74 546.70,295.74" fill="#fff" stroke="#2a2a2a" stroke-width="0.9" stroke-linejoin="round" />
<polygon points="546.70,301.56 554.20,305.56 554.20,313.56 546.70,309.56" fill="#fff" stroke="#2a2a2a" stroke-width="0.9" stroke-linejoin="round" />
<polygon points="546.70,315.38 554.20,319.38 554.20,327.38 546.70,323.38" fill="#fff" stroke="#2a2a2a" stroke-width="0.9" stroke-linejoin="round" />
<polygon points="546.70,329.20 554.20,333.20 554.20,341.20 546.70,337.20" fill="#fff" stroke="#2a2a2a" stroke-width="0.9" stroke-linejoin="round" />
<polygon points="546.70,343.02 554.20,347.02 554.20,355.02 546.70,351.02" fill="#fff" stroke="#2a2a2a" stroke-width="0.9" stroke-linejoin="round" />
<polygon points="546.70,356.84 554.20,360.84 554.20,368.84 546.70,364.84" fill="#fff" stroke="#2a2a2a" stroke-width="0.9" stroke-linejoin="round" />
<polygon points="546.70,370.66 554.20,374.66 554.20,382.66 546.70,378.66" fill="#fff" stroke="#2a2a2a" stroke-width="0.9" stroke-linejoin="round" />
<polygon points="546.70,384.48 554.20,388.48 554.20,396.48 546.70,392.48" fill="#fff" stroke="#2a2a2a" stroke-width="0.9" stroke-linejoin="round" />
<polygon points="546.70,398.30 554.20,402.30 554.20,410.30 546.70,406.30" fill="#fff" stroke="#2a2a2a" stroke-width="0.9" stroke-linejoin="round" />
</g>
<path d="M348.80,269.47 L583.30,403.84 C592.14,408.90 599.30,420.17 599.30,429.01 L599.30,500.48 C599.30,509.32 592.14,512.39 583.30,507.34 L348.80,373.44 C339.96,368.40 332.80,357.14 332.80,348.31 L332.80,276.30 C332.80,267.47 339.96,264.41 348.80,269.47 Z" fill="#fff" stroke="none"/>
<path d="M479.50,344.36 L583.30,403.84 C592.14,408.90 599.30,420.17 599.30,429.01 L599.30,500.48 C599.30,509.32 592.14,512.39 583.30,507.34 L348.80,373.44 C339.96,368.40 332.80,357.14 332.80,348.31 L332.80,276.30 C332.80,267.47 339.96,264.41 348.80,269.47 L470.50,339.21" fill="none" stroke="#2a2a2a" stroke-width="1.15"/>
<polygon points="344.50,279.10 434.50,331.30 398.00,349.80 344.50,318.77" fill="#f0f0f0" stroke="none" stroke-width="1" stroke-linejoin="round" />
<polygon points="344.50,318.77 398.00,349.80 398.00,390.00 344.50,358.97" fill="#e5e5e5" stroke="none" stroke-width="1" stroke-linejoin="round" />
<polygon points="398.00,349.80 434.50,331.30 434.50,370.50 398.00,390.00" fill="#ececec" stroke="none" stroke-width="1" stroke-linejoin="round" />
<polygon points="344.50,318.77 398.00,349.80 400.40,346.60 344.50,315.57" fill="#f7f7f7" stroke="none" stroke-width="1" stroke-linejoin="round" />
<clipPath id="clipLS"><rect x="344.5" y="250" width="120" height="150"/></clipPath>
<g clip-path="url(#clipLS)">
<use href="#sockT" transform="translate(331.0 288.5)"/>
<use href="#sockT" transform="translate(363.3 308.3)"/>
<use href="#sockT" transform="translate(398.0 328.2)"/>
</g>
<line x1="361.70" y1="289.08" x2="344.50" y2="297.79" stroke="#2a2a2a" stroke-width="0.8" />
<line x1="395.50" y1="308.68" x2="359.00" y2="327.18" stroke="#2a2a2a" stroke-width="0.8" />
<polyline points="344.50,279.10 434.50,331.30 434.50,370.50 398.00,390.00 344.50,358.97" fill="none" stroke="#2a2a2a" stroke-width="1.1" stroke-linejoin="round" />
<polyline points="344.50,318.77 398.00,349.80 434.50,331.30" fill="none" stroke="#2a2a2a" stroke-width="1.0" stroke-linejoin="round" />
<line x1="398.00" y1="349.80" x2="398.00" y2="390.00" stroke="#2a2a2a" stroke-width="1.0" />
<polyline points="344.50,315.57 400.40,346.60 431.00,331.10" fill="none" stroke="#333" stroke-width="0.8" stroke-linejoin="round" />
<line x1="344.50" y1="279.10" x2="344.50" y2="358.97" stroke="#2a2a2a" stroke-width="1.0" />
<rect x="428.3" y="336.5" width="3.2" height="3.6" fill="#222"/>
<rect x="428.3" y="367" width="3.2" height="3.6" fill="#222"/>
<polygon points="401.30,352.00 404.30,350.50 404.30,354.30 401.30,355.80" fill="#fff" stroke="#2a2a2a" stroke-width="0.7" stroke-linejoin="round" />
<polygon points="401.30,382.50 404.30,381.00 404.30,384.80 401.30,386.30" fill="#fff" stroke="#2a2a2a" stroke-width="0.7" stroke-linejoin="round" />
<line x1="418.20" y1="360.90" x2="429.00" y2="367.40" stroke="#333" stroke-width="0.7" />
<line x1="434.5" y1="341" x2="462" y2="356.3" stroke="#505050" stroke-width="0.9" stroke-dasharray="11 1.3 1 1.3" fill="none"/>
<line x1="499.3" y1="377.1" x2="553" y2="407" stroke="#505050" stroke-width="0.9" stroke-dasharray="11 1.3 1 1.3" fill="none"/>
<line x1="436.3" y1="372" x2="466.7" y2="389.5" stroke="#505050" stroke-width="0.9" stroke-dasharray="11 1.3 1 1.3" fill="none"/>
<line x1="491.2" y1="403.6" x2="551.8" y2="438.5" stroke="#505050" stroke-width="0.9" stroke-dasharray="11 1.3 1 1.3" fill="none"/>
<polygon points="469.64,362.63 470.39,362.19 471.15,361.78 471.90,361.39 472.66,361.02 473.41,360.68 474.16,360.37 474.90,360.08 475.65,359.81 476.38,359.57 477.12,359.36 477.84,359.17 478.56,359.01 479.28,358.88 479.98,358.77 480.67,358.70 481.36,358.65 482.03,358.62 482.70,358.63 483.32,358.72 483.93,358.84 484.52,358.99 485.09,359.17 485.65,359.37 486.19,359.60 486.72,359.86 487.23,360.15 487.72,360.46 488.19,360.79 488.64,361.16 489.07,361.55 489.48,361.96 489.88,362.40 490.25,362.86 490.60,363.35 490.93,363.86 491.24,364.39 491.52,364.95 491.79,365.52 492.03,366.12 492.25,366.74 494.33,364.84 490.75,376.32 485.55,372.89 487.63,370.98 487.45,370.47 487.25,369.98 487.03,369.51 486.79,369.06 486.54,368.62 486.26,368.20 485.97,367.81 485.67,367.43 485.34,367.07 485.00,366.73 484.65,366.41 484.28,366.11 483.89,365.83 483.49,365.58 483.07,365.34 482.64,365.13 482.19,364.94 481.74,364.77 481.26,364.62 480.78,364.50 480.28,364.40 479.78,364.32 479.29,364.20 478.78,364.11 478.27,364.03 477.74,363.99 477.20,363.96 476.64,363.96 476.08,363.98 475.51,364.02 474.92,364.09 474.33,364.18 473.73,364.30 473.12,364.44 472.50,364.60 471.87,364.78 471.23,364.99 470.59,365.23 469.95,365.48 469.30,365.76" fill="#1c1c1c" stroke="#1c1c1c" stroke-width="0.3" stroke-linejoin="round" />
<polygon points="492.01,377.56 491.95,378.29 491.87,379.03 491.77,379.79 491.65,380.55 491.51,381.33 491.35,382.11 491.17,382.91 490.97,383.71 490.76,384.51 490.52,385.33 490.26,386.15 489.99,386.97 489.70,387.81 489.39,388.64 489.06,389.48 488.71,390.32 488.34,391.16 487.96,392.01 487.52,392.85 487.06,393.68 486.59,394.52 486.11,395.35 485.61,396.17 485.09,396.99 484.57,397.80 484.03,398.60 483.47,399.40 482.91,400.19 482.33,400.97 481.74,401.74 481.14,402.50 480.53,403.25 479.91,403.99 479.28,404.72 478.64,405.43 477.99,406.14 477.34,406.83 476.67,407.50 476.00,408.16 475.33,408.81 475.92,410.45 468.78,411.67 473.41,403.52 474.01,405.16 474.56,404.64 475.10,404.10 475.64,403.56 476.18,403.00 476.70,402.43 477.22,401.85 477.73,401.26 478.24,400.66 478.73,400.05 479.22,399.44 479.70,398.81 480.17,398.18 480.62,397.54 481.07,396.89 481.51,396.24 481.94,395.58 482.35,394.92 482.76,394.25 483.15,393.58 483.53,392.90 483.90,392.22 484.25,391.54 484.64,390.86 485.01,390.17 485.37,389.49 485.71,388.79 486.05,388.10 486.37,387.40 486.68,386.69 486.97,385.99 487.25,385.29 487.52,384.58 487.77,383.88 488.01,383.17 488.23,382.47 488.44,381.77 488.63,381.07 488.80,380.38 488.96,379.68 489.11,378.99" fill="#1c1c1c" stroke="#1c1c1c" stroke-width="0.3" stroke-linejoin="round" />
<polygon points="466.22,414.71 465.57,415.12 464.91,415.51 464.25,415.88 463.60,416.24 462.94,416.58 462.28,416.90 461.63,417.21 460.97,417.49 460.32,417.76 459.67,418.01 459.02,418.24 458.38,418.45 457.74,418.64 457.10,418.81 456.47,418.95 455.84,419.08 455.22,419.19 454.61,419.28 454.03,419.28 453.46,419.27 452.90,419.23 452.35,419.18 451.81,419.10 451.28,419.00 450.76,418.88 450.26,418.74 449.76,418.58 449.28,418.40 448.81,418.20 448.35,417.98 447.91,417.74 447.48,417.47 447.07,417.19 446.66,416.89 446.28,416.57 445.90,416.23 445.55,415.87 445.20,415.50 444.88,415.10 444.56,414.69 442.63,416.89 444.29,405.16 450.81,407.58 448.87,409.79 449.13,410.13 449.40,410.45 449.68,410.76 449.98,411.05 450.28,411.33 450.60,411.59 450.93,411.84 451.27,412.07 451.63,412.29 451.99,412.49 452.36,412.67 452.75,412.84 453.15,412.99 453.55,413.12 453.97,413.24 454.39,413.34 454.82,413.42 455.27,413.49 455.72,413.54 456.17,413.57 456.64,413.58 457.12,413.58 457.57,413.62 458.04,413.65 458.51,413.65 458.99,413.64 459.48,413.61 459.98,413.57 460.49,413.50 461.00,413.42 461.52,413.32 462.05,413.20 462.58,413.07 463.12,412.92 463.67,412.74 464.22,412.56 464.77,412.35 465.33,412.13 465.90,411.89 466.46,411.63" fill="#1c1c1c" stroke="#1c1c1c" stroke-width="0.3" stroke-linejoin="round" />
<polygon points="442.75,402.78 442.75,402.02 442.78,401.25 442.82,400.46 442.89,399.66 442.98,398.84 443.10,398.02 443.24,397.18 443.40,396.33 443.58,395.47 443.79,394.60 444.02,393.72 444.27,392.83 444.55,391.94 444.84,391.04 445.16,390.13 445.50,389.22 445.87,388.31 446.25,387.39 446.70,386.48 447.16,385.56 447.64,384.65 448.15,383.74 448.67,382.84 449.20,381.94 449.75,381.05 450.32,380.17 450.91,379.30 451.51,378.43 452.12,377.57 452.75,376.73 453.39,375.89 454.05,375.07 454.71,374.26 455.39,373.46 456.08,372.67 456.78,371.91 457.49,371.15 458.21,370.41 458.94,369.69 459.67,368.99 459.08,367.35 466.22,366.13 461.59,374.28 460.99,372.64 460.39,373.21 459.80,373.79 459.22,374.39 458.64,375.00 458.07,375.62 457.51,376.25 456.96,376.90 456.42,377.56 455.89,378.23 455.37,378.90 454.86,379.59 454.36,380.28 453.87,380.99 453.40,381.70 452.94,382.41 452.49,383.14 452.06,383.86 451.64,384.60 451.23,385.33 450.84,386.07 450.47,386.81 450.11,387.56 449.72,388.30 449.35,389.05 449.00,389.81 448.66,390.56 448.33,391.32 448.02,392.08 447.73,392.84 447.45,393.60 447.20,394.36 446.96,395.12 446.73,395.87 446.53,396.62 446.34,397.37 446.17,398.12 446.02,398.86 445.89,399.59 445.78,400.32 445.69,401.04" fill="#1c1c1c" stroke="#1c1c1c" stroke-width="0.3" stroke-linejoin="round" />
<text x="472.40" y="440.50" font-family="Liberation Sans, sans-serif" font-size="18.5" fill="#1a1a1a" stroke="#1a1a1a" stroke-width="0.25" transform="translate(472.40 0) scale(0.92 1) translate(-472.40 0)">4</text>
<text x="486.00" y="440.50" font-family="Liberation Sans, sans-serif" font-size="18.5" fill="#1a1a1a" stroke="#1a1a1a" stroke-width="0.25" transform="translate(486.00 0) scale(0.92 1) translate(-486.00 0)">x</text>
<text x="497.90" y="440.50" font-family="Liberation Sans, sans-serif" font-size="18.5" fill="#1a1a1a" stroke="#1a1a1a" stroke-width="0.25" transform="translate(497.90 0) scale(0.92 1) translate(-497.90 0)">9</text>
<text x="507.10" y="440.50" font-family="Liberation Sans, sans-serif" font-size="18.5" fill="#1a1a1a" stroke="#1a1a1a" stroke-width="0.25" transform="translate(507.10 0) scale(0.92 1) translate(-507.10 0)">0</text>
<text x="516.30" y="440.50" font-family="Liberation Sans, sans-serif" font-size="18.5" fill="#1a1a1a" stroke="#1a1a1a" stroke-width="0.25" transform="translate(516.30 0) scale(0.92 1) translate(-516.30 0)">°</text>
<polygon points="553.10,406.10 560.60,410.10 560.60,414.50 553.10,410.50" fill="#bebebe" stroke="#2a2a2a" stroke-width="0.8" stroke-linejoin="round" />
<ellipse cx="553.1" cy="408.3" rx="1.3" ry="2.2" fill="#c8c8c8" stroke="#2a2a2a" stroke-width="0.7"/>
<polygon points="553.10,436.90 560.60,440.90 560.60,445.30 553.10,441.30" fill="#bebebe" stroke="#2a2a2a" stroke-width="0.8" stroke-linejoin="round" />
<ellipse cx="553.1" cy="439.1" rx="1.3" ry="2.2" fill="#c8c8c8" stroke="#2a2a2a" stroke-width="0.7"/>
<polygon points="559.10,408.50 563.60,406.50 563.60,449.50 559.10,450.30" fill="#c8c8c8" stroke="#2a2a2a" stroke-width="0.9" stroke-linejoin="round" />
<polygon points="563.60,406.50 579.80,414.60 579.80,456.80 563.60,449.50" fill="#bebebe" stroke="#2a2a2a" stroke-width="1.1" stroke-linejoin="round" />
<polyline points="564.40,408.80 579.10,416.30" fill="none" stroke="#555" stroke-width="0.5" stroke-linejoin="round" />
<rect x="566.1" y="417.7" width="9.2" height="6.2" rx="2.8" fill="#a8a8a8" stroke="#2a2a2a" stroke-width="0.9" transform="rotate(27 570.7 420.8)"/>
<rect x="568.1" y="419.3" width="5.6" height="3.0" rx="1.4" fill="#fff" stroke="#333" stroke-width="0.6" transform="rotate(27 570.7 420.8)"/>
<rect x="566.1" y="429.3" width="9.2" height="6.2" rx="2.8" fill="#a8a8a8" stroke="#2a2a2a" stroke-width="0.9" transform="rotate(27 570.7 432.4)"/>
<rect x="568.1" y="430.9" width="5.6" height="3.0" rx="1.4" fill="#fff" stroke="#333" stroke-width="0.6" transform="rotate(27 570.7 432.4)"/>
<rect x="566.1" y="441.0" width="9.2" height="6.2" rx="2.8" fill="#a8a8a8" stroke="#2a2a2a" stroke-width="0.9" transform="rotate(27 570.7 444.1)"/>
<rect x="568.1" y="442.6" width="5.6" height="3.0" rx="1.4" fill="#fff" stroke="#333" stroke-width="0.6" transform="rotate(27 570.7 444.1)"/>
<polygon points="349.30,144.00 474.30,216.00 439.00,235.00 349.30,183.33" fill="#e3e3e3" stroke="none" stroke-width="1" stroke-linejoin="round" />
<polygon points="349.30,183.33 439.00,235.00 439.00,275.60 349.30,223.93" fill="#f0f0f0" stroke="none" stroke-width="1" stroke-linejoin="round" />
<polygon points="439.00,235.00 474.30,216.00 474.30,256.50 439.00,275.60" fill="#eaeaea" stroke="none" stroke-width="1" stroke-linejoin="round" />
<polygon points="349.30,183.33 439.00,235.00 439.00,238.00 349.30,186.33" fill="#f5f5f5" stroke="none" stroke-width="1" stroke-linejoin="round" />
<clipPath id="clipU"><polygon points="349.3,183.3 439.0,235.0 439.0,275.6 349.3,223.9"/></clipPath>
<g clip-path="url(#clipU)">
<use href="#sock" transform="matrix(0.33500 0.19000 0.00000 0.38500 337.850 179.020)"/>
<use href="#sock" transform="matrix(0.33500 0.19000 0.00000 0.38500 370.850 198.520)"/>
<use href="#sock" transform="matrix(0.33500 0.19000 0.00000 0.38500 403.850 218.020)"/>
</g>
<line x1="370.90" y1="195.77" x2="370.90" y2="236.37" stroke="#2a2a2a" stroke-width="0.8" />
<line x1="403.40" y1="214.49" x2="403.40" y2="255.09" stroke="#2a2a2a" stroke-width="0.8" />
<polyline points="349.30,144.00 474.30,216.00 474.30,256.50 439.00,275.60 349.30,223.93" fill="none" stroke="#2a2a2a" stroke-width="1.1" stroke-linejoin="round" />
<polyline points="349.30,183.33 439.00,235.00 474.30,216.00" fill="none" stroke="#2a2a2a" stroke-width="1.0" stroke-linejoin="round" />
<line x1="439.00" y1="235.00" x2="439.00" y2="275.60" stroke="#2a2a2a" stroke-width="1.0" />
<polyline points="349.30,186.33 439.00,238.00" fill="none" stroke="#3a3a3a" stroke-width="0.8" stroke-linejoin="round" />
<rect x="469.4" y="221.6" width="3.2" height="3.6" fill="#222"/>
<rect x="469.4" y="251.6" width="3.2" height="3.6" fill="#222"/>
<polygon points="443.40,238.20 446.60,236.60 446.60,240.40 443.40,242.00" fill="#fff" stroke="#2a2a2a" stroke-width="0.7" stroke-linejoin="round" />
<polygon points="443.40,268.20 446.60,266.60 446.60,270.40 443.40,272.00" fill="#fff" stroke="#2a2a2a" stroke-width="0.7" stroke-linejoin="round" />
<line x1="474.6" y1="225" x2="490.5" y2="233.5" stroke="#505050" stroke-width="0.9" stroke-dasharray="11 1.3 1 1.3" fill="none"/>
<line x1="474.6" y1="255.2" x2="490.5" y2="264" stroke="#505050" stroke-width="0.9" stroke-dasharray="11 1.3 1 1.3" fill="none"/>
<polygon points="491.50,232.00 499.00,236.00 499.00,240.40 491.50,236.40" fill="#bebebe" stroke="#2a2a2a" stroke-width="0.8" stroke-linejoin="round" />
<ellipse cx="491.5" cy="234.2" rx="1.3" ry="2.2" fill="#c8c8c8" stroke="#2a2a2a" stroke-width="0.7"/>
<polygon points="491.50,262.80 499.00,266.80 499.00,271.20 491.50,267.20" fill="#bebebe" stroke="#2a2a2a" stroke-width="0.8" stroke-linejoin="round" />
<ellipse cx="491.5" cy="265.0" rx="1.3" ry="2.2" fill="#c8c8c8" stroke="#2a2a2a" stroke-width="0.7"/>
<polygon points="497.50,234.40 502.00,232.40 502.00,275.40 497.50,276.20" fill="#c8c8c8" stroke="#2a2a2a" stroke-width="0.9" stroke-linejoin="round" />
<polygon points="502.00,232.40 518.20,240.50 518.20,282.70 502.00,275.40" fill="#bebebe" stroke="#2a2a2a" stroke-width="1.1" stroke-linejoin="round" />
<polyline points="502.80,234.70 517.50,242.20" fill="none" stroke="#555" stroke-width="0.5" stroke-linejoin="round" />
<rect x="504.5" y="243.6" width="9.2" height="6.2" rx="2.8" fill="#a8a8a8" stroke="#2a2a2a" stroke-width="0.9" transform="rotate(27 509.1 246.7)"/>
<rect x="506.5" y="245.2" width="5.6" height="3.0" rx="1.4" fill="#fff" stroke="#333" stroke-width="0.6" transform="rotate(27 509.1 246.7)"/>
<rect x="504.5" y="255.2" width="9.2" height="6.2" rx="2.8" fill="#a8a8a8" stroke="#2a2a2a" stroke-width="0.9" transform="rotate(27 509.1 258.3)"/>
<rect x="506.5" y="256.8" width="5.6" height="3.0" rx="1.4" fill="#fff" stroke="#333" stroke-width="0.6" transform="rotate(27 509.1 258.3)"/>
<rect x="504.5" y="266.9" width="9.2" height="6.2" rx="2.8" fill="#a8a8a8" stroke="#2a2a2a" stroke-width="0.9" transform="rotate(27 509.1 270.0)"/>
<rect x="506.5" y="268.5" width="5.6" height="3.0" rx="1.4" fill="#fff" stroke="#333" stroke-width="0.6" transform="rotate(27 509.1 270.0)"/>
<polyline points="470.50,339.20 457.00,249.30 479.50,344.40" fill="none" stroke="#333" stroke-width="0.9" stroke-linejoin="round" />
<text x="453.8" y="122.8" font-family="Liberation Sans, sans-serif" font-size="21" fill="#1a1a1a" stroke="#1a1a1a" stroke-width="0.25" transform="translate(453.8 0) scale(0.82 1) translate(-453.8 0)">5</text>
<polyline points="448.00,127.70 466.20,127.70 504.80,232.30" fill="none" stroke="#333" stroke-width="0.9" stroke-linejoin="round" />
</svg>
</body></html>
